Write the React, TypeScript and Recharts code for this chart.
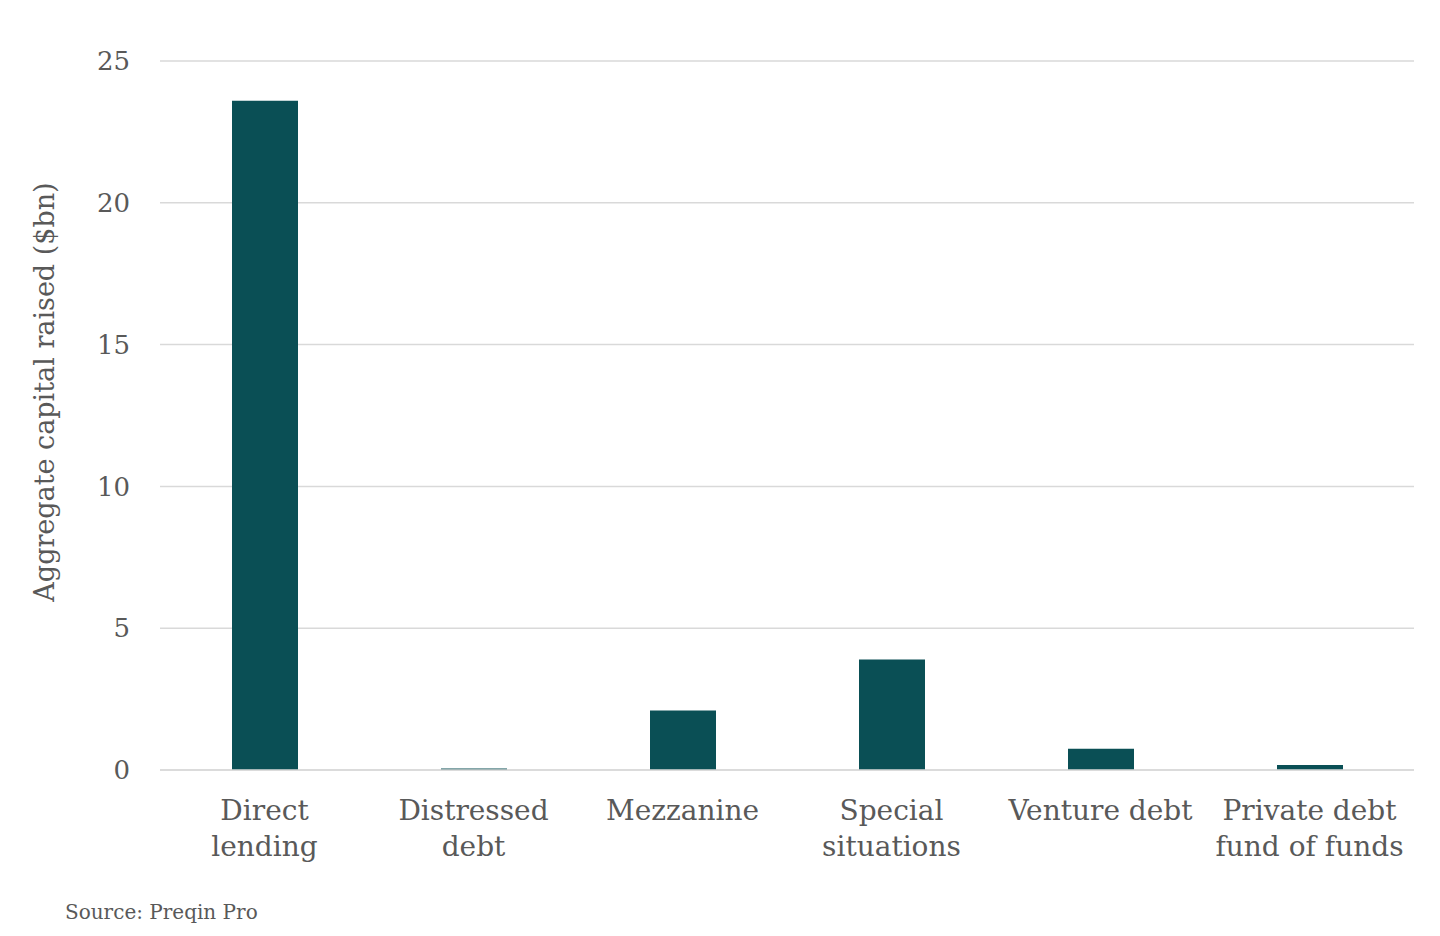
import { BarChart, Bar, XAxis, YAxis, CartesianGrid, Label } from 'recharts';

// Aggregate capital raised by strategy ($bn)
const categories = [
  'Direct\nlending',
  'Distressed\ndebt',
  'Mezzanine',
  'Special\nsituations',
  'Venture debt',
  'Private debt\nfund of funds',
];
const capitalRaised = [23.6, 0.05, 2.1, 3.9, 0.75, 0.18];
const yTicks = [0, 5, 10, 15, 20, 25];

const data = categories.map((name, i) => ({ name, value: capitalRaised[i] }));

const FONT = '"DejaVu Serif", Georgia, serif';
const TEXT = '#595959';

const CategoryTick = ({ x, y, payload }: any) => {
  const lines = String(payload.value).split('\n');
  return (
    <text x={x} y={y} textAnchor="middle" fill={TEXT} fontFamily={FONT} fontSize={28}>
      {lines.map((line, i) => (
        <tspan key={i} x={x} dy={i === 0 ? 42 : 36}>
          {line}
        </tspan>
      ))}
    </text>
  );
};

// y-axis title, centred a little above the plot middle like the original
const AxisTitle = () => (
  <text
    transform="translate(54, 392) rotate(-90)"
    textAnchor="middle"
    fill={TEXT}
    fontFamily={FONT}
    fontSize={27}
  >
    Aggregate capital raised ($bn)
  </text>
);

export default function App() {
  return (
    <div style={{ position: 'absolute', left: 0, top: 0, width: 1440, height: 936, background: '#fff' }}>
      <BarChart
        width={1440}
        height={936}
        data={data}
        margin={{ top: 61, right: 26, bottom: 100, left: 0 }}
      >
        <CartesianGrid vertical={false} stroke="#d9d9d9" strokeWidth={1.5} />
        <XAxis
          dataKey="name"
          axisLine={{ stroke: '#d9d9d9', strokeWidth: 1.5 }}
          tickLine={false}
          interval={0}
          height={66}
          tick={<CategoryTick />}
        />
        <YAxis
          domain={[0, 25]}
          ticks={yTicks}
          width={160}
          axisLine={false}
          tickLine={false}
          tickMargin={24}
          tick={{ fill: TEXT, fontFamily: FONT, fontSize: 26 }}
        >
          <Label content={<AxisTitle />} />
        </YAxis>
        <Bar dataKey="value" fill="#0a4f55" barSize={66} isAnimationActive={false} />
      </BarChart>
      <div
        style={{
          position: 'absolute',
          left: 65,
          top: 900,
          fontFamily: FONT,
          fontSize: 20,
          color: TEXT,
        }}
      >
        Source: Preqin Pro
      </div>
    </div>
  );
}
